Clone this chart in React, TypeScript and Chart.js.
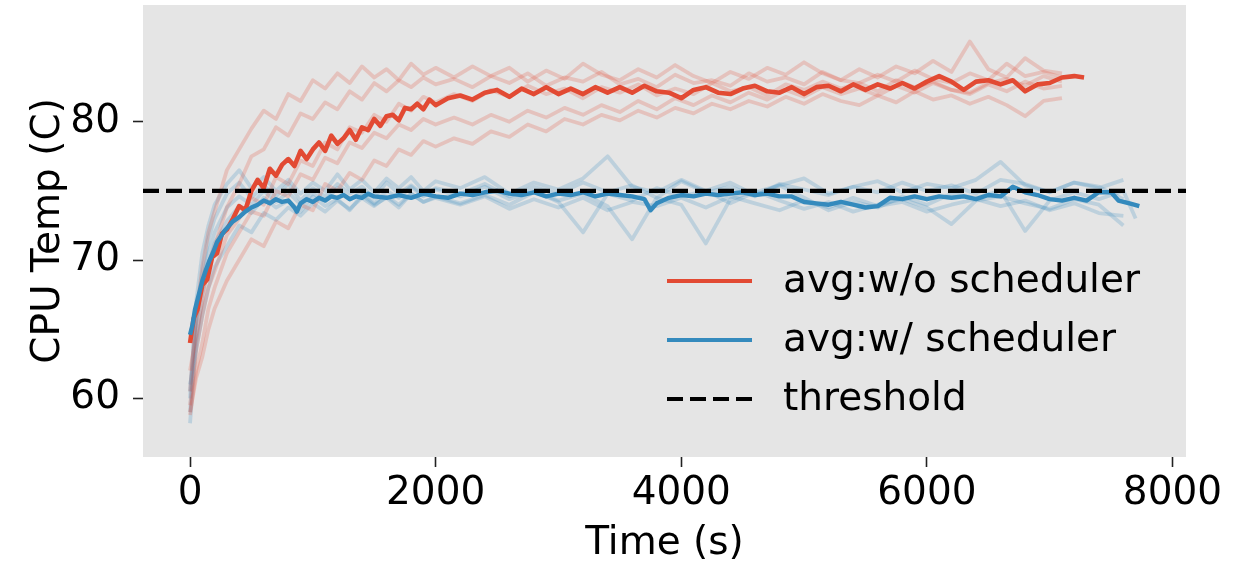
import React, { useEffect, useRef } from "react";
import { Chart, registerables } from "chart.js";

Chart.register(...registerables);

// ---------- axes ----------
const X_MIN = -383;
const X_MAX = 8110;
const Y_MIN = 55.76;
const Y_MAX = 88.44;
const X_TICKS = [0, 2000, 4000, 6000, 8000];
const Y_TICKS = [60, 70, 80];
const THRESHOLD = 75;

// ---------- average without scheduler ----------
const RED_MEAN_T = [
  0, 30, 60, 100, 140, 180, 220, 260, 300, 350,
  400, 450, 500, 550, 600, 650, 700, 750, 800, 850,
  900, 950, 1000, 1050, 1100, 1150, 1200, 1250, 1300, 1350,
  1400, 1450, 1500, 1550, 1600, 1650, 1700, 1750, 1800, 1850,
  1900, 1950, 2000, 2100, 2200, 2300, 2400, 2500, 2600, 2700,
  2800, 2900, 3000, 3100, 3200, 3300, 3400, 3500, 3600, 3700,
  3800, 3900, 4000, 4100, 4200, 4300, 4400, 4500, 4600, 4700,
  4800, 4900, 5000, 5100, 5200, 5300, 5400, 5500, 5600, 5700,
  5800, 5900, 6000, 6100, 6200, 6300, 6400, 6500, 6600, 6700,
  6800, 6900, 7000, 7100, 7200, 7280,
];
const RED_MEAN_V = [
  64.0, 65.8, 66.4, 68.2, 68.6, 70.2, 70.5, 71.9, 72.2, 73.0,
  73.9, 73.6, 75.0, 75.8, 75.2, 76.6, 76.1, 76.9, 77.3, 76.8,
  77.9, 77.3, 78.0, 78.5, 77.9, 79.0, 78.4, 78.8, 79.4, 78.7,
  79.6, 79.4, 80.2, 79.7, 80.4, 80.5, 80.1, 81.0, 80.9, 81.3,
  80.9, 81.6, 81.2, 81.7, 81.9, 81.6, 82.1, 82.3, 81.8, 82.4,
  82.0, 82.5, 82.0, 82.4, 82.0, 82.5, 82.1, 82.5, 82.1, 82.6,
  82.2, 82.1, 81.7, 82.3, 82.5, 82.1, 82.0, 82.4, 82.6, 82.2,
  82.1, 82.5, 82.0, 82.5, 82.6, 82.2, 82.7, 82.3, 82.7, 82.4,
  82.8, 82.4, 82.9, 83.3, 82.9, 82.3, 82.9, 83.0, 82.7, 83.0,
  82.2, 82.7, 82.8, 83.2, 83.3, 83.2,
];

// ---------- average with scheduler ----------
const BLUE_MEAN_T = [
  0, 20, 40, 60, 80, 100, 130, 160, 190, 220,
  250, 280, 310, 350, 400, 450, 500, 550, 600, 650,
  700, 750, 800, 850, 870, 900, 950, 1000, 1050, 1100,
  1150, 1200, 1250, 1300, 1350, 1400, 1450, 1500, 1600, 1700,
  1800, 1900, 2000, 2100, 2200, 2300, 2400, 2500, 2600, 2700,
  2800, 2900, 3000, 3100, 3200, 3300, 3400, 3500, 3600, 3700,
  3750, 3800, 3900, 4000, 4100, 4200, 4300, 4400, 4500, 4600,
  4700, 4800, 4900, 5000, 5100, 5200, 5300, 5400, 5500, 5600,
  5700, 5800, 5900, 6000, 6100, 6200, 6300, 6400, 6500, 6600,
  6700, 6800, 6900, 7000, 7100, 7200, 7300, 7400, 7500, 7560,
  7650, 7730,
];
const BLUE_MEAN_V = [
  64.6, 65.3, 66.4, 67.1, 67.8, 68.5, 69.3, 70.0, 70.6, 71.3,
  71.7, 72.1, 72.4, 72.8, 73.1, 73.5, 73.8, 74.0, 74.3, 74.1,
  74.4, 74.2, 74.3, 73.8, 73.5, 74.1, 74.4, 74.2, 74.5, 74.3,
  74.6, 74.5, 74.7, 74.4, 74.6, 74.5, 74.8, 74.6, 74.5, 74.7,
  74.5, 74.8, 74.6, 74.5, 74.8, 74.7, 74.9, 75.0, 74.8, 74.7,
  74.9, 74.6, 74.8, 74.7, 74.9, 74.6, 74.8, 74.7, 74.6, 74.4,
  73.6, 74.1, 74.5, 74.7, 74.6, 74.8, 74.7, 74.8, 74.9, 74.7,
  74.8, 74.6, 74.6, 74.2, 74.1, 74.0, 74.2, 74.0, 73.8, 73.9,
  74.5, 74.4, 74.6, 74.4, 74.6, 74.5, 74.6, 74.4, 74.7, 74.6,
  75.3, 74.9, 74.7, 74.4, 74.3, 74.5, 74.3, 74.9, 74.9, 74.3,
  74.1, 73.9,
];

// ---------- individual runs without scheduler ----------
const RED_RUN_T = [
  0, 50, 100, 150, 200, 300, 400, 500, 600, 700,
  800, 900, 1000, 1100, 1200, 1300, 1400, 1500, 1600, 1700,
  1800, 1900, 2000,
  2150, 2300, 2450, 2600, 2750, 2900, 3050, 3200, 3350, 3500,
  3650, 3800, 3950, 4100, 4250, 4400, 4550, 4700, 4850, 5000,
  5150, 5300, 5450, 5600, 5750, 5900, 6050, 6200, 6350, 6500,
  6650, 6800, 6950, 7100,
];
const RED_RUN_1 = [
  60.5, 66.0, 69.5, 72.0, 73.5, 76.5, 78.0, 79.5, 80.8, 80.2,
  82.0, 81.5, 83.0, 82.4, 83.5, 82.8, 84.0, 83.2, 83.8, 83.0,
  84.2, 83.4, 83.9,
  83.2, 84.0, 83.3, 83.9, 82.9, 83.7, 83.1, 84.2, 83.4, 83.0,
  83.8, 83.2, 84.1, 83.3, 82.8, 83.6, 83.1, 83.9, 83.4, 84.3,
  83.5, 83.0, 83.8, 83.2, 84.0, 83.5, 84.4, 83.6, 85.8, 83.8,
  83.2, 84.6, 83.7, 83.5,
];
const RED_RUN_2 = [
  62.0, 64.5, 67.0, 69.8, 71.0, 73.8, 75.5, 77.5, 78.0, 79.6,
  79.0, 80.6, 80.2, 81.4, 80.9, 82.2, 81.6, 82.8, 82.2, 83.0,
  82.5, 83.2, 82.7,
  83.1, 82.5, 83.3, 82.8, 83.5, 82.6, 83.2, 82.9, 83.6, 82.7,
  83.1, 82.5, 83.4, 82.8, 83.0, 82.6, 83.5, 82.9, 83.2, 82.7,
  83.6, 83.0, 82.8, 83.4, 82.9, 83.7, 83.1, 82.8, 83.5, 83.0,
  84.2, 83.3, 83.6, 83.2,
];
const RED_RUN_3 = [
  59.5, 63.5, 66.0, 68.0, 69.2, 71.8, 73.0, 74.5, 74.0, 76.0,
  75.5, 77.2, 76.8, 78.5, 78.0, 79.6, 79.2, 80.5, 80.0, 81.3,
  80.8, 81.8, 81.4,
  82.0, 81.5, 82.3, 81.8, 82.6, 82.0, 82.4, 81.7, 82.5, 82.1,
  82.7, 81.9, 82.4, 82.0, 82.8, 82.2, 82.5, 81.9, 82.7, 82.3,
  82.9, 82.4, 82.8, 82.2, 83.0, 82.5, 82.9, 82.3, 82.1, 82.8,
  83.1, 82.6, 83.3, 82.9,
];
const RED_RUN_4 = [
  59.0, 61.5, 63.0, 65.0, 66.5, 68.5, 70.0, 71.5, 71.0, 72.8,
  72.3, 74.0, 73.6, 75.5, 75.0, 76.3, 75.8, 77.2, 76.8, 78.0,
  77.6, 78.6, 78.2,
  78.8, 78.4, 79.3, 78.9, 79.8, 79.3, 80.2, 79.8, 80.5, 80.1,
  80.8, 80.3, 81.0, 80.6, 81.3, 80.9, 81.5, 81.1, 81.8, 81.3,
  82.0, 81.5, 81.2, 81.9, 81.4, 82.2, 81.6, 81.9, 81.3, 81.8,
  81.2, 80.4, 81.5, 81.7,
];
const RED_RUN_5 = [
  58.8, 62.0, 64.0, 66.5, 68.0, 70.5, 72.0, 73.5, 73.2, 75.0,
  74.6, 76.2, 75.8, 77.4, 77.0, 78.5, 78.1, 79.2, 78.8, 79.8,
  79.4, 80.2, 79.8,
  80.3, 79.8, 80.5, 80.0, 80.8, 80.3, 81.0, 80.5, 81.2, 80.7,
  81.5, 80.9, 81.7, 81.2, 81.9, 81.4, 82.1, 81.6, 82.3, 81.8,
  82.5, 82.0, 82.4, 81.9, 82.6, 82.1, 82.8, 82.3, 82.0, 82.7,
  82.2, 82.9, 82.4, 82.6,
];

// ---------- individual runs with scheduler ----------
const BLUE_RUN_T = [
  0, 50, 100, 150, 200, 300, 400, 500, 600, 700,
  800, 900, 1000, 1100, 1200, 1300, 1400, 1500, 1600, 1700,
  1800, 1900, 2000,
  2200, 2400, 2600, 2800, 3000, 3200, 3400, 3600, 3800, 4000,
  4200, 4400, 4600, 4800, 5000, 5200, 5400, 5600, 5800, 6000,
  6200, 6400, 6600, 6800, 7000, 7200, 7400, 7600, 7700,
];
const BLUE_RUN_1 = [
  60.0, 67.0, 70.5, 72.5, 74.0, 75.5, 76.5, 75.2, 76.0, 75.0,
  75.8, 74.8, 75.6, 75.0, 76.2, 75.1, 75.8, 74.9, 75.9, 75.2,
  76.0, 75.0, 75.7,
  75.2, 76.0, 74.8, 75.6, 75.1, 75.9, 77.5, 75.3, 74.9, 75.8,
  75.0, 75.6, 74.7, 75.4, 75.9, 74.8, 75.3, 75.7, 74.9, 75.5,
  75.2, 75.8, 77.1, 75.4, 74.9, 75.6, 75.2, 75.8, null,
];
const BLUE_RUN_2 = [
  59.0, 65.5, 68.5, 70.5, 72.0, 73.8, 74.6, 74.0, 75.0, 74.2,
  74.9, 74.0, 74.8, 74.3, 75.2, 74.4, 74.9, 74.1, 75.0, 74.5,
  75.3, 74.6, 75.1,
  74.6, 75.3, 74.4, 75.0, 74.2, 72.0, 74.8, 74.3, 75.2, 74.6,
  75.0, 74.1, 74.9, 75.4, 74.5, 73.6, 74.2, 73.8, 74.6, 74.0,
  74.8, 74.5, 75.0, 72.1, 74.3, 74.9, 74.4, 75.0, 73.0,
];
const BLUE_RUN_3 = [
  58.2, 64.0, 67.5, 69.5, 71.2, 72.8, 73.9, 73.4, 74.5, 73.8,
  74.3, 73.5, 74.6, 73.9, 74.4, 73.6, 74.7, 74.0, 74.5, 73.8,
  74.8, 74.2, 74.6,
  74.1, 74.7, 74.0, 74.9, 74.3, 74.8, 73.9, 71.5, 74.5, 74.0,
  71.2, 74.4, 75.0, 74.3, 73.7, 74.2, 73.5, 74.0, 74.4, 73.8,
  72.6, 74.3, 74.6, 74.1, 73.7, 74.4, 74.0, 72.5, null,
];
const BLUE_RUN_4 = [
  61.0, 63.5, 66.0, 68.0, 69.5, 71.0, 72.5, 72.0, 73.4, 72.9,
  73.8, 73.2, 74.1, 73.5, 74.3, 73.7, 74.5, 73.9, 74.6, 74.0,
  74.8, 74.2, 74.5,
  74.0, 74.6, 73.7, 74.4, 73.8, 74.5, 73.6, 74.2, 73.9, 74.5,
  73.8, 74.6, 74.1, 73.6, 74.3, 73.8, 74.5, 73.9, 74.2, 73.5,
  74.0, 74.4, 73.9, 74.3, 73.6, 74.1, 73.4, 73.2, null,
];
const BLUE_RUN_5 = [
  60.5, 66.0, 69.0, 71.5, 73.0, 74.8, 75.6, 74.5, 75.4, 74.6,
  75.5, 74.3, 75.2, 74.6, 75.5, 74.8, 75.3, 74.5, 75.6, 74.8,
  75.4, 74.7, 75.2,
  74.8, 75.5, 74.6, 75.3, 74.8, 75.6, 74.9, 75.4, 74.5, 75.7,
  74.9, 75.3, 74.6, 75.5, 75.1, 74.7, 75.3, 74.9, 75.6, 75.0,
  75.4, 74.8, 75.8, 75.5, 74.9, 75.6, 75.3, 74.4, null,
];

const RED_RUNS = [RED_RUN_1, RED_RUN_2, RED_RUN_3, RED_RUN_4, RED_RUN_5];
const BLUE_RUNS = [BLUE_RUN_1, BLUE_RUN_2, BLUE_RUN_3, BLUE_RUN_4, BLUE_RUN_5];

const LABEL_RED = "avg:w/o scheduler";
const LABEL_BLUE = "avg:w/ scheduler";
const LABEL_THRESHOLD = "threshold";

const RED = "#E24A33";
const BLUE = "#348ABD";
const RED_FAINT = "rgba(226,74,51,0.22)";
const BLUE_FAINT = "rgba(52,138,189,0.22)";
const FONT = "DejaVu Sans";
const DASH = [16, 7];

const toPoints = (ts: number[], vs: (number | null)[]) =>
  ts.map((t, i) => ({ x: t, y: vs[i] }));

const bgPlugin = {
  id: "axesBg",
  beforeDraw(chart: any) {
    const { ctx, chartArea } = chart;
    ctx.save();
    ctx.fillStyle = "#E5E5E5";
    ctx.fillRect(chartArea.left, chartArea.top, chartArea.right - chartArea.left, chartArea.bottom - chartArea.top);
    ctx.restore();
  },
};

const legendPlugin = {
  id: "insideLegend",
  afterDatasetsDraw(chart: any) {
    const { ctx } = chart;
    const items = [
      { label: LABEL_RED, color: RED, dash: [] as number[] },
      { label: LABEL_BLUE, color: BLUE, dash: [] as number[] },
      { label: LABEL_THRESHOLD, color: "#000", dash: DASH },
    ];
    ctx.save();
    items.forEach((it, i) => {
      const y = 281 + i * 59;
      ctx.beginPath();
      ctx.setLineDash(it.dash);
      ctx.strokeStyle = it.color;
      ctx.lineWidth = 4.2;
      ctx.lineCap = "butt";
      ctx.moveTo(667, y);
      ctx.lineTo(752, y);
      ctx.stroke();
      ctx.setLineDash([]);
      ctx.fillStyle = "#000";
      ctx.font = `39px "${FONT}"`;
      ctx.textAlign = "left";
      ctx.textBaseline = "middle";
      ctx.fillText(it.label, 783, y + 0.5);
    });
    ctx.restore();
  },
};

export default function App() {
  const ref = useRef<HTMLCanvasElement | null>(null);

  useEffect(() => {
    if (!ref.current) return;
    const faint = (vs: (number | null)[], ts: number[], color: string) => ({
      label: "",
      data: toPoints(ts, vs),
      borderColor: color,
      borderWidth: 3.8,
      pointRadius: 0,
      tension: 0,
      fill: false,
      spanGaps: false,
      borderJoinStyle: "round" as const,
      order: 5,
    });

    const datasets: any[] = [
      ...RED_RUNS.map((r) => faint(r, RED_RUN_T, RED_FAINT)),
      ...BLUE_RUNS.map((r) => faint(r, BLUE_RUN_T, BLUE_FAINT)),
      {
        label: LABEL_RED,
        data: toPoints(RED_MEAN_T, RED_MEAN_V),
        borderColor: RED,
        borderWidth: 4.6,
        pointRadius: 0,
        tension: 0,
        fill: false,
        borderJoinStyle: "round",
        order: 3,
      },
      {
        label: LABEL_BLUE,
        data: toPoints(BLUE_MEAN_T, BLUE_MEAN_V),
        borderColor: BLUE,
        borderWidth: 4.4,
        pointRadius: 0,
        tension: 0,
        fill: false,
        borderJoinStyle: "round",
        order: 2,
      },
      {
        label: LABEL_THRESHOLD,
        data: [
          { x: X_MIN, y: THRESHOLD },
          { x: X_MAX, y: THRESHOLD },
        ],
        borderColor: "#000",
        borderWidth: 4.4,
        borderDash: DASH,
        pointRadius: 0,
        fill: false,
        order: 1,
      },
    ];

    const chart = new Chart(ref.current, {
      type: "line",
      data: { datasets },
      plugins: [bgPlugin, legendPlugin],
      options: {
        responsive: false,
        animation: false,
        devicePixelRatio: 1,
        parsing: false as any,
        normalized: true,
        layout: { padding: { top: 5, right: 64, left: 0, bottom: 0 } },
        plugins: {
          legend: { display: false },
          tooltip: { enabled: false },
        },
        scales: {
          x: {
            type: "linear",
            min: X_MIN,
            max: X_MAX,
            afterBuildTicks: (s: any) => {
              s.ticks = X_TICKS.map((v) => ({ value: v }));
            },
            afterFit: (s: any) => {
              s.height = 106;
              s.paddingLeft = 0;
              s.paddingRight = 0;
            },
            grid: {
              display: true,
              drawOnChartArea: false,
              drawTicks: true,
              tickLength: 10,
              tickColor: "#222",
              tickWidth: 1.6,
            },
            border: { display: false },
            ticks: {
              callback: (v: any) => String(v),
              color: "#000",
              font: { family: FONT, size: 39, lineHeight: 1.2 },
              padding: 3,
              maxRotation: 0,
              autoSkip: false,
            },
            title: {
              display: true,
              text: "Time (s)",
              color: "#000",
              font: { family: FONT, size: 39, lineHeight: 1 },
              padding: { top: 0, bottom: 0 },
            },
          },
          y: {
            type: "linear",
            min: Y_MIN,
            max: Y_MAX,
            afterBuildTicks: (s: any) => {
              s.ticks = Y_TICKS.map((v) => ({ value: v }));
            },
            afterFit: (s: any) => {
              s.width = 143;
              s.paddingTop = 0;
              s.paddingBottom = 0;
            },
            grid: {
              display: true,
              drawOnChartArea: false,
              drawTicks: true,
              tickLength: 10,
              tickColor: "#222",
              tickWidth: 1.6,
            },
            border: { display: false },
            ticks: {
              callback: (v: any) => String(v),
              color: "#000",
              font: { family: FONT, size: 39, lineHeight: 1.2 },
              padding: 13,
              autoSkip: false,
            },
            title: {
              display: true,
              text: "CPU Temp (C)",
              color: "#000",
              font: { family: FONT, size: 39, lineHeight: 1 },
              padding: { top: 29, bottom: 0 },
            },
          },
        },
      },
    });
    return () => chart.destroy();
  }, []);

  return (
    <div style={{ position: "absolute", left: 0, top: 0, width: 1250, height: 563, background: "#fff" }}>
      <canvas ref={ref} width={1250} height={563} style={{ display: "block", width: 1250, height: 563 }} />
    </div>
  );
}
